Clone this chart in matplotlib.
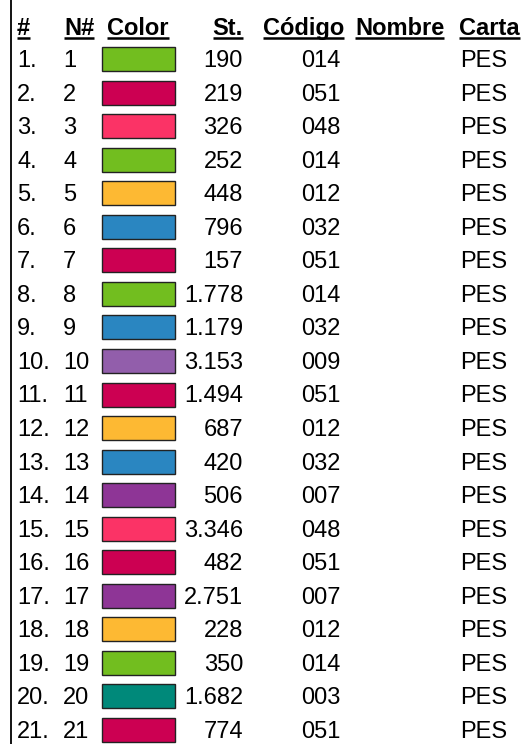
import matplotlib
matplotlib.use("Agg")
import matplotlib.pyplot as plt
from matplotlib.patches import Rectangle

rows = list(range(1, 22))
stitches = ["190", "219", "326", "252", "448", "796", "157", "1.778", "1.179", "3.153",
            "1.494", "687", "420", "506", "3.346", "482", "2.751", "228", "350", "1.682", "774"]
codes = ["014", "051", "048", "014", "012", "032", "051", "014", "032", "009",
         "051", "012", "032", "007", "048", "051", "007", "012", "014", "003", "051"]
carta = ["PES"] * 21
code_colors = {"014": "#72BE1F", "051": "#CC0052", "048": "#FB3366", "012": "#FDB933",
               "032": "#2A86C1", "009": "#925EAB", "007": "#8E3596", "003": "#00897A"}
headers = ["#", "N#", "Color", "St.", "Código", "Nombre", "Carta"]

W, H = 525, 744
fig = plt.figure(figsize=(W / 100, H / 100), dpi=100)
ax = fig.add_axes([0, 0, 1, 1])
ax.set_xlim(0, W)
ax.set_ylim(H, 0)
ax.axis("off")

font = ["Liberation Sans", "DejaVu Sans"]
fs = 17

# left border line
ax.plot([11, 11], [0, H], color="black", lw=1.3)

# clipped title fragment at top
ax.text(35, -9, "Paleta seleccionada:", fontsize=fs, family=font, color="#c8c8c8", va="baseline")

# headers
hx = [(17, "left"), (64, "left"), (107, "left"), (243, "right"), (263, "left"), (355, "left"), (459, "left")]
hbase = 35
htexts = []
for (x, ha), h in zip(hx, headers):
    t = ax.text(x, hbase, h, fontsize=fs, family=font, fontweight="bold", ha=ha, va="baseline")
    htexts.append(t)

fig.canvas.draw()
r = fig.canvas.get_renderer()
inv = ax.transData.inverted()
for t in htexts:
    bb = t.get_window_extent(renderer=r)
    (x0, _), (x1, _) = inv.transform([[bb.x0, 0], [bb.x1, 0]])
    ax.plot([x0, x1], [38, 38], color="black", lw=1.8, solid_capstyle="butt")

y0 = 67
dy = 33.55
for i, n in enumerate(rows):
    yb = y0 + i * dy
    ax.text(17, yb, f"{n}.", fontsize=fs, family=font, va="baseline")
    ax.text(63, yb, f"{n}", fontsize=fs, family=font, va="baseline")
    ax.add_patch(Rectangle((102, yb - 20), 73, 24, facecolor=code_colors[codes[i]],
                           edgecolor="#222222", lw=1.0))
    ax.text(243, yb, stitches[i], fontsize=fs, family=font, ha="right", va="baseline")
    ax.text(341, yb, codes[i], fontsize=fs, family=font, ha="right", va="baseline")
    ax.text(460, yb, carta[i], fontsize=fs, family=font, ha="left", va="baseline")

fig.savefig("out.png", dpi=100)
